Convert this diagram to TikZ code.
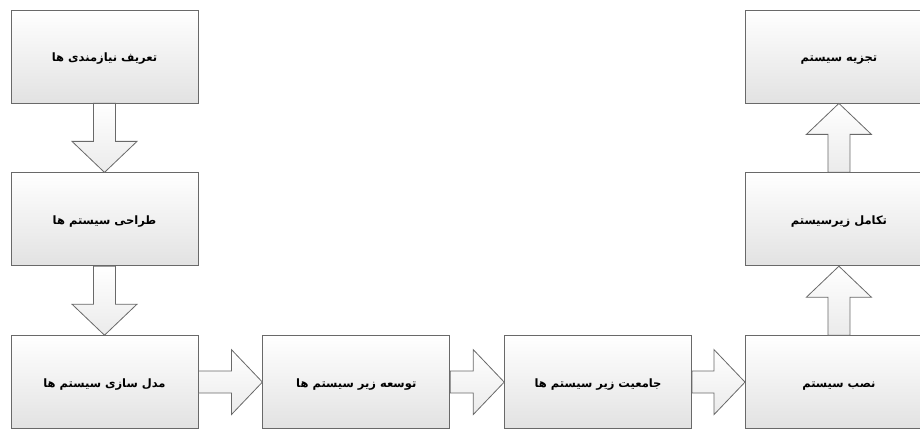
\documentclass[tikz,border=0pt]{standalone}
\usepackage{fontspec}
\usepackage{tikz}
\usetikzlibrary{calc,positioning}
\TeXXeTstate=1
\newfontfamily\arabicfont[Script=Arabic]{DejaVu Sans}
\definecolor{framegray}{RGB}{105,105,105}
\definecolor{shadegray}{RGB}{226,226,226}

\tikzset{
  stagebox/.style={draw=framegray, line width=0.8pt, top color=white, bottom color=shadegray,
    minimum width=187pt, minimum height=93pt, inner sep=0pt, text height=11pt, text depth=0pt,
    font=\arabicfont\bfseries\fontsize{11.5}{13}\selectfont},
  arrowbox/.style={draw=framegray, line width=0.8pt, top color=white, bottom color=shadegray!70}
}

% hollow block arrow from #1 to #2 (tip at #2)
\newcommand{\flowarrow}[2]{%
  \coordinate (neck) at ($(#2)!31pt!(#1)$);
  \draw[arrowbox] ($(#1)!11pt!90:(#2)$) -- ($(neck)!11pt!90:(#2)$) -- ($(neck)!32.5pt!90:(#2)$)
    -- (#2) -- ($(neck)!32.5pt!-90:(#2)$) -- ($(neck)!11pt!-90:(#2)$) -- ($(#1)!11pt!-90:(#2)$) -- cycle;
}

\begin{document}
\begin{tikzpicture}[x=1pt, y=1pt]
    \useasboundingbox (0,0) rectangle (920,428);
    \clip (0,0) rectangle (920,428);

    % Left column, top to bottom
    \node[stagebox] (req) at (104.5,371.5) {\beginR تعریف نیازمندی ها\endR};
    \node[stagebox, below=69pt of req] (design) {\beginR طراحی سیستم ها\endR};
    \node[stagebox, below=69pt of design] (model) {\beginR مدل سازی سیستم ها\endR};

    % Bottom row, left to right
    \node[stagebox, right=64pt of model] (dev) {\beginR توسعه زیر سیستم ها\endR};
    \node[stagebox, right=54pt of dev] (integ) {\beginR جامعیت زیر سیستم ها\endR};
    \node[stagebox, right=53pt of integ] (install) {\beginR نصب سیستم\endR};

    % Right column, bottom to top
    \node[stagebox, above=69pt of install] (evolve) {\beginR تکامل زیرسیستم\endR};
    \node[stagebox, above=69pt of evolve] (decomp) {\beginR تجزیه سیستم\endR};

    % Block arrows
    \flowarrow{req.south}{design.north}
    \flowarrow{design.south}{model.north}
    \flowarrow{model.east}{dev.west}
    \flowarrow{dev.east}{integ.west}
    \flowarrow{integ.east}{install.west}
    \flowarrow{install.north}{evolve.south}
    \flowarrow{evolve.north}{decomp.south}
\end{tikzpicture}
\end{document}
